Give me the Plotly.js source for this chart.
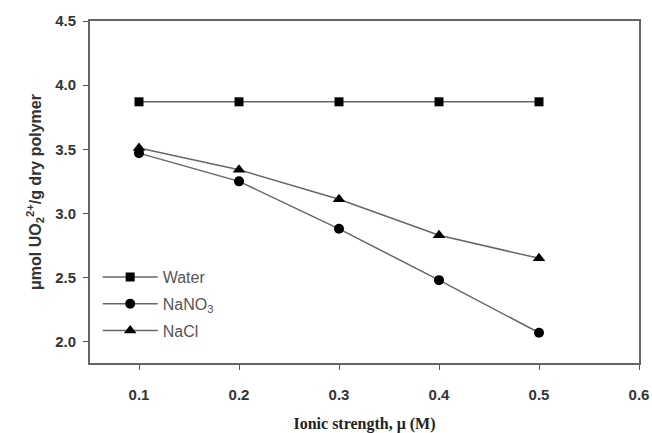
<!DOCTYPE html>
<html><head><meta charset="utf-8">
<script src="https://cdn.plot.ly/plotly-3.0.1.min.js"></script>
<style>body{margin:0;padding:0;background:#fff}#chart{width:652px;height:433px}</style>
</head><body><div id="chart"></div>
<script>
const ionicStrength = [0.1, 0.2, 0.3, 0.4, 0.5];
const water = [3.87, 3.87, 3.87, 3.87, 3.87];
const nano3 = [3.47, 3.25, 2.88, 2.48, 2.07];
const nacl = [3.51, 3.34, 3.11, 2.83, 2.65];
const seriesNames = ['Water', 'NaNO<sub>3</sub>', 'NaCl'];
const xTicks = [0.1, 0.2, 0.3, 0.4, 0.5, 0.6];
const yTicks = [2.0, 2.5, 3.0, 3.5, 4.0, 4.5];

const lineStyle = {color: '#666', width: 1.5};
function tr(y, name, symbol, size, g) {
  return {x: ionicStrength, y: y, name: name, legendgroup: g, type: 'scatter', mode: 'lines+markers',
    line: lineStyle, marker: {symbol: symbol, size: size, color: '#000'}};
}
const data = [
  tr(water, seriesNames[0], 'square', 9, 'a'),
  tr(nano3, seriesNames[1], 'circle', 10, 'b'),
  tr(nacl, seriesNames[2], 'triangle-up', 11, 'c')
];
const tickFont = {family: 'Liberation Sans, Arial', size: 15, color: '#333', weight: 'bold'};
const layout = {
  width: 652, height: 433,
  margin: {l: 90, r: 13, t: 21, b: 70},
  paper_bgcolor: '#fff', plot_bgcolor: '#fff',
  showlegend: true,
  legend: {x: 0.014, y: 0.301, xanchor: 'left', yanchor: 'top', bgcolor: 'rgba(0,0,0,0)',
    traceorder: 'grouped', tracegroupgap: 3,
    font: {family: 'Liberation Sans, Arial', size: 16, color: '#555'}, itemwidth: 55},
  xaxis: {range: [0.051, 0.6], tickvals: xTicks, tickformat: '.1f', ticks: 'outside', ticklen: 5,
    ticklabelstandoff: 12,
    tickcolor: '#555', showline: true, linecolor: '#666', linewidth: 2, mirror: true,
    showgrid: false, zeroline: false, tickfont: tickFont,
    title: {text: 'Ionic strength, μ (M)', standoff: 23,
      font: {family: 'Liberation Serif, Times New Roman', size: 16, color: '#222', weight: 'bold'}}},
  yaxis: {range: [1.834, 4.5], tickvals: yTicks, tickformat: '.1f', ticks: 'outside', ticklen: 5,
    ticklabelstandoff: 4,
    tickcolor: '#555', showline: true, linecolor: '#666', linewidth: 2, mirror: true,
    showgrid: false, zeroline: false, tickfont: tickFont,
    title: {text: 'μmol UO<sub>2</sub><sup>2+</sup>/g dry polymer', standoff: 10,
      font: {family: 'Liberation Sans, Arial', size: 16, color: '#333', weight: 'bold'}}}
};
Plotly.newPlot('chart', data, layout, {displayModeBar: false, staticPlot: true});
</script></body></html>
